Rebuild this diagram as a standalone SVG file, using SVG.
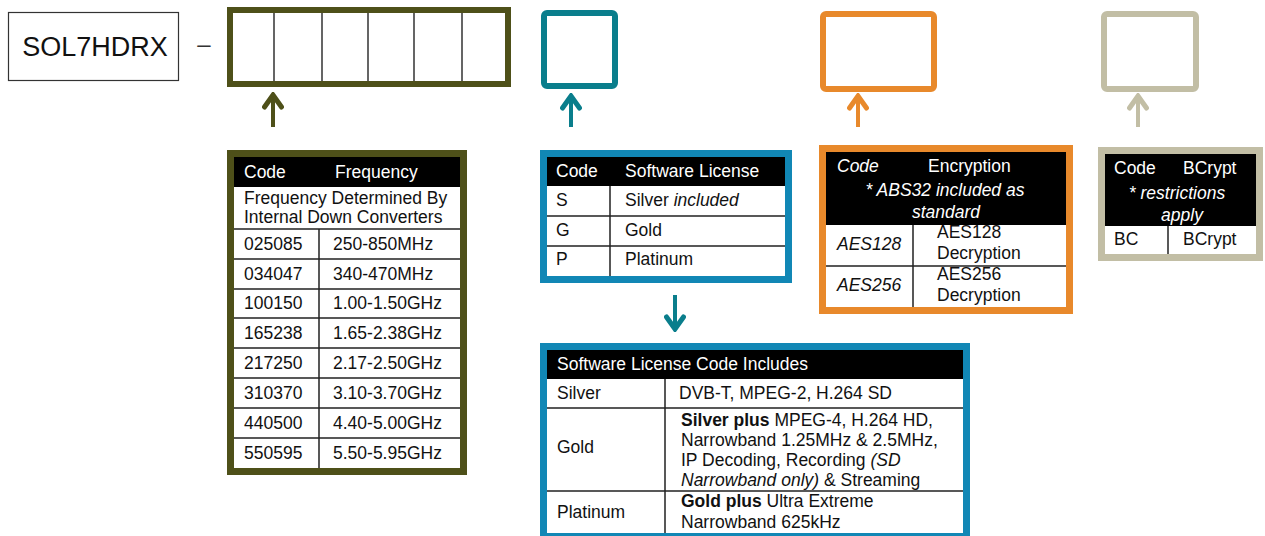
<svg xmlns="http://www.w3.org/2000/svg" width="1265" height="536" viewBox="0 0 1265 536">
<defs>
<style>
text{font-family:"Liberation Sans",Arial,sans-serif;font-size:17.5px;fill:#111}
.h{fill:#fff}
.it{font-style:italic}
.b{font-weight:bold}
.c{text-anchor:middle}
.blk{fill:#000}
.ln{stroke:#222;stroke-width:1.5;fill:none}
.cell{stroke:#333;stroke-width:1.5}
.arr{fill:none;stroke-width:4}
</style>
<marker id="mOlive" viewBox="0 0 18 22" refX="14" refY="11" markerWidth="18" markerHeight="22" markerUnits="userSpaceOnUse" orient="auto"><path d="M3,2.5 L15,11 L3,19.5" fill="none" stroke="#4e5019" stroke-width="5" stroke-linecap="round"/></marker>
<marker id="mTeal" viewBox="0 0 18 22" refX="14" refY="11" markerWidth="18" markerHeight="22" markerUnits="userSpaceOnUse" orient="auto"><path d="M3,2.5 L15,11 L3,19.5" fill="none" stroke="#0a7e8c" stroke-width="5" stroke-linecap="round"/></marker>
<marker id="mOrange" viewBox="0 0 18 22" refX="14" refY="11" markerWidth="18" markerHeight="22" markerUnits="userSpaceOnUse" orient="auto"><path d="M3,2.5 L15,11 L3,19.5" fill="none" stroke="#e8892b" stroke-width="5" stroke-linecap="round"/></marker>
<marker id="mBeige" viewBox="0 0 18 22" refX="14" refY="11" markerWidth="18" markerHeight="22" markerUnits="userSpaceOnUse" orient="auto"><path d="M3,2.5 L15,11 L3,19.5" fill="none" stroke="#c2bea5" stroke-width="5" stroke-linecap="round"/></marker>
</defs>
<rect width="1265" height="536" fill="#fff"/>

<g id="model">
<rect x="8.5" y="12.5" width="170" height="68" fill="#fff" stroke="#333" stroke-width="1.2"/>
<text x="95" y="56" class="c" style="font-size:27px">SOL7HDRX</text>
<text x="204" y="52" class="c" style="font-size:24px;fill:#333">–</text>
</g>

<g id="freq-code">
<rect x="230" y="10" width="278" height="74" fill="#fff" stroke="#4e5019" stroke-width="6"/>
<path class="cell" d="M274,13V81M322,13V81M368,13V81M414,13V81M462,13V81"/>
</g>

<g id="license-code">
<rect x="544" y="13" width="71" height="73" rx="3" fill="#fff" stroke="#0a7e8c" stroke-width="6"/>
</g>

<g id="encryption-code">
<rect x="823" y="14" width="111" height="75" rx="3" fill="#fff" stroke="#e8892b" stroke-width="6"/>
</g>

<g id="bcrypt-code">
<rect x="1104" y="14" width="92" height="75" rx="3" fill="#fff" stroke="#c2bea5" stroke-width="6"/>
</g>

<g id="connectors">
<path class="arr" stroke="#4e5019" d="M273,127V96" marker-end="url(#mOlive)"/>
<path class="arr" stroke="#0a7e8c" d="M571,127V97" marker-end="url(#mTeal)"/>
<path class="arr" stroke="#e8892b" d="M858,127V97" marker-end="url(#mOrange)"/>
<path class="arr" stroke="#c2bea5" d="M1138,127V97" marker-end="url(#mBeige)"/>
<path class="arr" stroke="#0a7e8c" d="M675,295V328" marker-end="url(#mTeal)"/>
</g>

<g id="freq-table">
<rect x="230.5" y="153.5" width="233" height="318" fill="#fff" stroke="#4e5019" stroke-width="7"/>
<rect class="blk" x="234" y="157" width="226" height="30"/>
<text class="h" x="244" y="178">Code</text>
<text class="h" x="335" y="178">Frequency</text>
<text x="244" y="204">Frequency Determined By</text>
<text x="244" y="223">Internal Down Converters</text>
<path class="ln" d="M234,229H460M234,259H460M234,289H460M234,318H460M234,348H460M234,378H460M234,408H460M234,438H460M319,229V468"/>
<text x="244" y="250">025085</text><text x="333" y="250">250-850MHz</text>
<text x="244" y="280">034047</text><text x="333" y="280">340-470MHz</text>
<text x="244" y="309">100150</text><text x="333" y="309">1.00-1.50GHz</text>
<text x="244" y="339">165238</text><text x="333" y="339">1.65-2.38GHz</text>
<text x="244" y="369">217250</text><text x="333" y="369">2.17-2.50GHz</text>
<text x="244" y="399">310370</text><text x="333" y="399">3.10-3.70GHz</text>
<text x="244" y="429">440500</text><text x="333" y="429">4.40-5.00GHz</text>
<text x="244" y="459">550595</text><text x="333" y="459">5.50-5.95GHz</text>
</g>

<g id="license-table">
<rect x="543.5" y="153.5" width="245" height="126" fill="#fff" stroke="#1187b5" stroke-width="7"/>
<rect class="blk" x="547" y="157" width="238" height="29"/>
<text class="h" x="556" y="177">Code</text>
<text class="h" x="625" y="177">Software License</text>
<path class="ln" d="M547,216H785M547,246H785M610,186V276"/>
<text x="556" y="206">S</text><text x="625" y="206">Silver <tspan class="it">included</tspan></text>
<text x="556" y="236">G</text><text x="625" y="236">Gold</text>
<text x="556" y="265">P</text><text x="625" y="265">Platinum</text>
</g>

<g id="encryption-table">
<rect x="822.5" y="148.5" width="247" height="162" fill="#fff" stroke="#e8892b" stroke-width="7"/>
<rect class="blk" x="826" y="152" width="240" height="73"/>
<text class="h it" x="837" y="172">Code</text>
<text class="h" x="928" y="172">Encryption</text>
<text class="h it c" x="945" y="196">* ABS32 included as</text>
<text class="h it c" x="946" y="218">standard</text>
<path class="ln" d="M826,266H1066M913,225V307"/>
<text class="it" x="837" y="250">AES128</text>
<text x="937" y="238">AES128</text><text x="937" y="259">Decryption</text>
<text class="it" x="837" y="291">AES256</text>
<text x="937" y="280">AES256</text><text x="937" y="301">Decryption</text>
</g>

<g id="bcrypt-table">
<rect x="1101.5" y="150.5" width="158" height="107" fill="#fff" stroke="#c2bea5" stroke-width="7"/>
<rect class="blk" x="1105" y="154" width="151" height="72"/>
<text class="h" x="1114" y="174">Code</text>
<text class="h" x="1183" y="174">BCrypt</text>
<text class="h it c" x="1177" y="199">* restrictions</text>
<text class="h it c" x="1182" y="221">apply</text>
<path class="ln" d="M1168,226V254"/>
<text x="1114" y="245">BC</text><text x="1183" y="245">BCrypt</text>
</g>

<g id="includes-table">
<rect x="543.5" y="346.5" width="423" height="190" fill="#fff" stroke="#1187b5" stroke-width="7"/>
<rect class="blk" x="547" y="350" width="416" height="29"/>
<text class="h" x="557" y="370">Software License Code Includes</text>
<path class="ln" d="M547,408H963M547,491H963M665,379V533"/>
<text x="557" y="399">Silver</text>
<text x="679" y="399">DVB-T, MPEG-2, H.264 SD</text>
<text x="557" y="453">Gold</text>
<text x="681" y="426"><tspan class="b">Silver plus</tspan> MPEG-4, H.264 HD,</text>
<text x="681" y="446">Narrowband 1.25MHz &amp; 2.5MHz,</text>
<text x="681" y="466">IP Decoding, Recording <tspan class="it">(SD</tspan></text>
<text x="681" y="486"><tspan class="it">Narrowband only)</tspan> &amp; Streaming</text>
<text x="557" y="518">Platinum</text>
<text x="681" y="507"><tspan class="b">Gold plus</tspan> Ultra Extreme</text>
<text x="681" y="528">Narrowband 625kHz</text>
</g>
</svg>
